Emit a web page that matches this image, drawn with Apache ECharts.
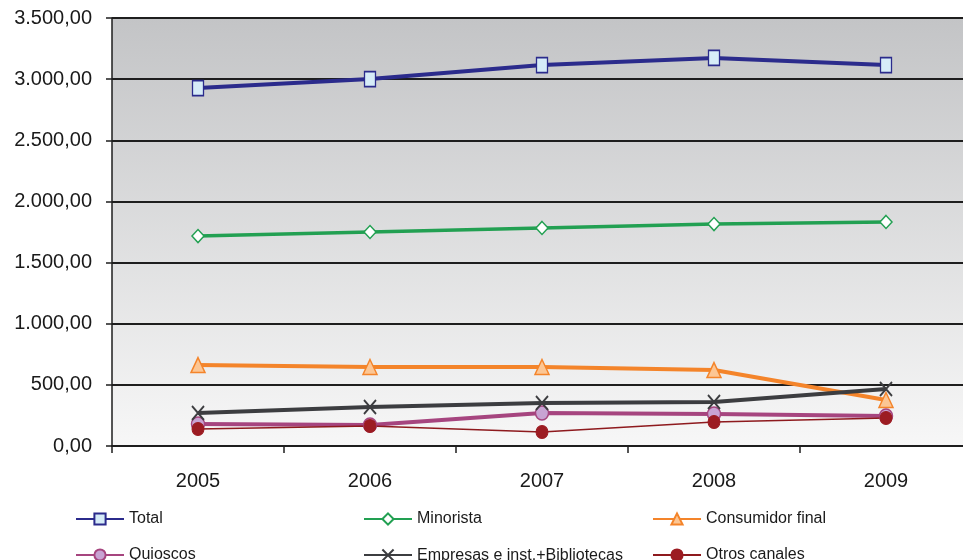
<!DOCTYPE html>
<html>
<head>
<meta charset="utf-8">
<script src="https://cdn.jsdelivr.net/npm/echarts@6/dist/echarts.min.js"></script>
<style>
  html, body { margin: 0; padding: 0; background: #fff; overflow: hidden; }
  #chart { width: 975px; height: 560px; }
</style>
</head>
<body>
<div id="chart"></div>
<script>
var years = ['2005', '2006', '2007', '2008', '2009']
var total = [2927, 3001, 3115, 3173, 3115]
var minorista = [1717, 1750, 1783, 1815, 1832]
var consumidorFinal = [662, 646, 646, 621, 376]
var quioscos = [180, 172, 270, 262, 245]
var empresas = [270, 319, 352, 360, 466]
var otrosCanales = [139, 164, 114, 196, 229]

var font = 'Liberation Sans, Arial, sans-serif'

// 3500 -> "3.500,00"
function fmt(v) {
  var s = String(Math.round(v))
  s = s.replace(/\B(?=(\d{3})+(?!\d))/g, '.')
  return s + ',00'
}

var crossPath = 'path://M0,0L10,12M10,0L0,12'

function legendAt(name, left, top) {
  return {
    data: [name],
    left: left,
    top: top,
    itemWidth: 48,
    itemHeight: 14,
    textStyle: { fontFamily: font, fontSize: 16, color: '#1a1a1a' }
  }
}

var chart = echarts.init(document.getElementById('chart'))
chart.setOption({
  animation: false,
  backgroundColor: '#fff',
  grid: {
    left: 112,
    right: 3,
    top: 18,
    bottom: 114,
    show: true,
    borderWidth: 0,
    backgroundColor: new echarts.graphic.LinearGradient(0, 0, 0, 1, [
      { offset: 0, color: '#c3c4c6' },
      { offset: 1, color: '#f7f7f7' }
    ])
  },
  legend: [
    legendAt('Total', 70, 506),
    legendAt('Minorista', 358, 506),
    legendAt('Consumidor final', 647, 506),
    legendAt('Quioscos', 70, 542),
    legendAt('Empresas e inst.+Bibliotecas', 358, 542),
    legendAt('Otros canales', 647, 542)
  ],
  xAxis: {
    type: 'category',
    data: years,
    boundaryGap: true,
    axisLine: { lineStyle: { color: '#1e1e1e', width: 2 } },
    axisTick: { show: true, length: 7, lineStyle: { color: '#1e1e1e', width: 1.5 } },
    axisLabel: { fontFamily: font, fontSize: 20, color: '#1a1a1a', margin: 25 }
  },
  yAxis: {
    type: 'value',
    min: 0,
    max: 3500,
    interval: 500,
    axisLine: { show: true, lineStyle: { color: '#1e1e1e', width: 1.5 } },
    axisTick: { show: true, length: 6, lineStyle: { color: '#1e1e1e', width: 1.5 } },
    splitLine: { lineStyle: { color: '#1e1e1e', width: 2 } },
    axisLabel: { fontFamily: font, fontSize: 20, color: '#1a1a1a', margin: 20, formatter: fmt }
  },
  series: [
    {
      name: 'Total',
      type: 'line',
      data: total,
      symbol: 'rect',
      symbolSize: [11, 15],
      lineStyle: { color: '#2b2b8c', width: 4 },
      itemStyle: { color: '#d6ecf8', borderColor: '#2b2b8c', borderWidth: 1.5 }
    },
    {
      name: 'Minorista',
      type: 'line',
      data: minorista,
      symbol: 'diamond',
      symbolSize: [12, 13],
      lineStyle: { color: '#22a052', width: 3.5 },
      itemStyle: { color: '#ffffff', borderColor: '#22a052', borderWidth: 1.5 }
    },
    {
      name: 'Consumidor final',
      type: 'line',
      data: consumidorFinal,
      symbol: 'triangle',
      symbolSize: [14, 15],
      lineStyle: { color: '#f4842a', width: 4 },
      itemStyle: { color: '#fcc694', borderColor: '#f4842a', borderWidth: 1.5 }
    },
    {
      name: 'Quioscos',
      type: 'line',
      data: quioscos,
      symbol: 'circle',
      symbolSize: [13, 14],
      lineStyle: { color: '#a6457f', width: 4 },
      itemStyle: { color: '#c8a3d3', borderColor: '#a6457f', borderWidth: 1.5 }
    },
    {
      name: 'Empresas e inst.+Bibliotecas',
      type: 'line',
      data: empresas,
      symbol: crossPath,
      symbolSize: [12, 14],
      lineStyle: { color: '#3c3d40', width: 4 },
      itemStyle: { color: 'none', borderColor: '#3c3d40', borderWidth: 2 }
    },
    {
      name: 'Otros canales',
      type: 'line',
      data: otrosCanales,
      symbol: 'circle',
      symbolSize: [12, 13],
      lineStyle: { color: '#8e1a1e', width: 1.5 },
      itemStyle: { color: '#9c1c22', borderColor: '#9c1c22', borderWidth: 1 }
    }
  ]
})
</script>
</body>
</html>
